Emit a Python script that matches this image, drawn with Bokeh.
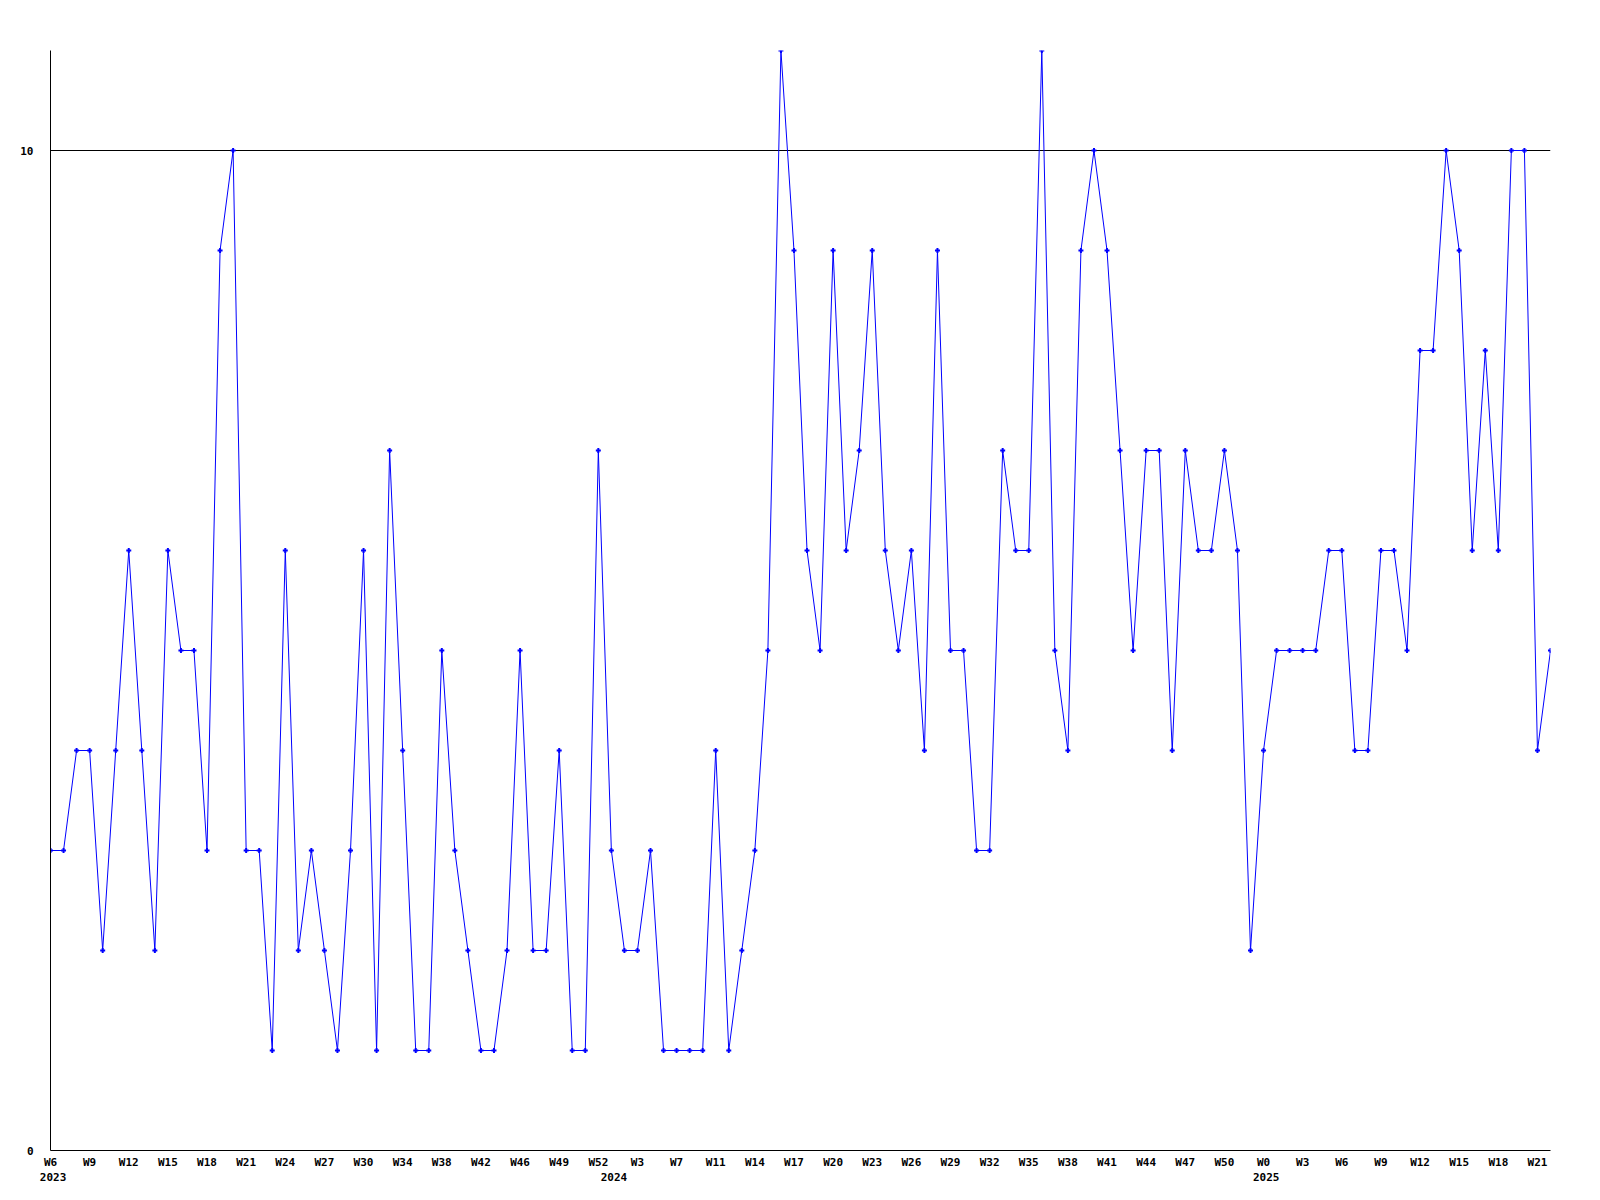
from bokeh.plotting import figure
from bokeh.models import FixedTicker, Range1d, LinearAxis, ColumnDataSource
from bokeh.embed import file_html
from bokeh.resources import INLINE

# weekly values, one per point (index based x axis)
values = [3, 3, 4, 4, 2, 4, 6, 4, 2, 6,
          5, 5, 3, 9, 10, 3, 3, 1, 6, 2,
          3, 2, 1, 3, 6, 1, 7, 4, 1, 1,
          5, 3, 2, 1, 1, 2, 5, 2, 2, 4,
          1, 1, 7, 3, 2, 2, 3, 1, 1, 1,
          1, 4, 1, 2, 3, 5, 11, 9, 6, 5,
          9, 6, 7, 9, 6, 5, 6, 4, 9, 5,
          5, 3, 3, 7, 6, 6, 11, 5, 4, 9,
          10, 9, 7, 5, 7, 7, 4, 7, 6, 6,
          7, 6, 2, 4, 5, 5, 5, 5, 6, 6,
          4, 4, 6, 6, 5, 8, 8, 10, 9, 6,
          8, 6, 10, 10, 4, 5]

tick_labels = ["W6", "W9", "W12", "W15", "W18", "W21", "W24", "W27", "W30",
               "W34", "W38", "W42", "W46", "W49", "W52", "W3", "W7", "W11",
               "W14", "W17", "W20", "W23", "W26", "W29", "W32", "W35", "W38",
               "W41", "W44", "W47", "W50", "W0", "W3", "W6", "W9", "W12",
               "W15", "W18", "W21"]
tick_step = 3

year_labels = ["2023", "2024", "2025"]
year_start_index = [0, 43, 93]

y_ticks = [0, 10]
y_max = 11

xs = list(range(len(values)))
tick_index = [i * tick_step for i in range(len(tick_labels))]

src = ColumnDataSource(data=dict(x=xs, y=values))

FONT = "DejaVu Sans Mono"

p = figure(output_backend="svg", toolbar_location=None,
           frame_width=1500, frame_height=1100,
           min_border_left=50, min_border_top=50,
           min_border_right=40, min_border_bottom=40,
           x_range=Range1d(0, len(values) - 1), y_range=Range1d(0, y_max))

p.outline_line_color = None
p.background_fill_color = "white"
p.border_fill_color = "white"

p.line("x", "y", source=src, line_color="#0000ff", line_width=1)
p.scatter("x", "y", source=src, marker="cross", size=5, line_width=2,
          line_color="#0000ff")


def style_axis(ax):
    ax.minor_tick_line_color = None
    ax.major_tick_line_color = None
    ax.major_tick_out = 0
    ax.major_tick_in = 0
    ax.major_label_text_font = FONT
    ax.major_label_text_font_size = "11px"
    ax.major_label_text_font_style = "bold"
    ax.major_label_text_color = "black"


# x axis (week labels)
p.xaxis.ticker = FixedTicker(ticks=tick_index)
p.xaxis.major_label_overrides = {i: t for i, t in zip(tick_index, tick_labels)}
style_axis(p.xaxis[0])
p.xaxis.major_label_standoff = 5
p.xaxis.axis_line_color = "black"

# second row: year labels, starting at the first week of each year
year_pos = [i + 0.2 for i in year_start_index]
year_axis = LinearAxis(ticker=FixedTicker(ticks=year_pos),
                       major_label_overrides={pos: y for pos, y in zip(year_pos, year_labels)})
style_axis(year_axis)
year_axis.axis_line_color = None
year_axis.major_label_standoff = 1
p.add_layout(year_axis, "below")

# y axis
p.yaxis.ticker = FixedTicker(ticks=y_ticks)
style_axis(p.yaxis[0])
p.yaxis.major_label_standoff = 17
p.yaxis.axis_line_color = "black"

# grid: only the line at 10
p.xgrid.visible = False
p.ygrid.ticker = FixedTicker(ticks=[10])
p.ygrid.grid_line_color = "black"
p.ygrid.grid_line_alpha = 1.0
p.ygrid.grid_line_width = 1

open("out.html", "w").write(file_html(p, INLINE))
